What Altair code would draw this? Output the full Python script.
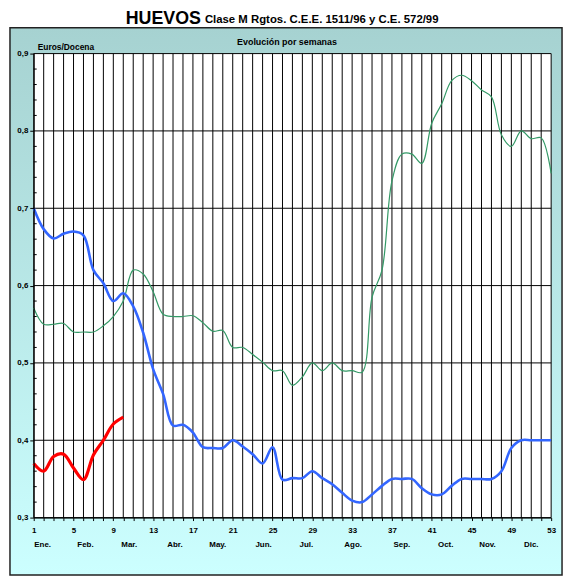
import altair as alt
import pandas as pd

# ---------------- data ----------------
weeks = list(range(1, 54))

# previous season (blue, thick)
serie_azul = [0.700, 0.673, 0.661, 0.667, 0.670, 0.665, 0.620, 0.603, 0.580, 0.590,
              0.573, 0.539, 0.492, 0.460, 0.419, 0.420, 0.410, 0.391, 0.390, 0.390,
              0.400, 0.392, 0.382, 0.370, 0.391, 0.349, 0.351, 0.351, 0.360, 0.351,
              0.343, 0.332, 0.322, 0.320, 0.330, 0.341, 0.350, 0.350, 0.350, 0.338,
              0.330, 0.330, 0.341, 0.350, 0.350, 0.350, 0.350, 0.360, 0.390, 0.400,
              0.400, 0.400, 0.400]

# two seasons ago (green, thin)
serie_verde = [0.571, 0.550, 0.550, 0.551, 0.540, 0.540, 0.540, 0.548, 0.560, 0.580,
               0.620, 0.615, 0.592, 0.563, 0.560, 0.560, 0.561, 0.552, 0.541, 0.542,
               0.520, 0.520, 0.511, 0.501, 0.490, 0.490, 0.471, 0.482, 0.500, 0.490,
               0.500, 0.490, 0.490, 0.488, 0.585, 0.620, 0.735, 0.770, 0.770, 0.758,
               0.810, 0.835, 0.865, 0.872, 0.865, 0.853, 0.844, 0.795, 0.780, 0.800,
               0.790, 0.791, 0.745]

# current season (red, thick) weeks 1-10
semanas_actual = list(range(1, 11))
serie_roja = [0.370, 0.360, 0.379, 0.382, 0.364, 0.349, 0.381, 0.400, 0.421, 0.430]

meses = ["Ene.", "Feb.", "Mar.", "Abr.", "May.", "Jun.",
         "Jul.", "Ago.", "Sep.", "Oct.", "Nov.", "Dic."]
meses_semana = [1.9, 6.2, 10.6, 15.2, 19.5, 24.1, 28.4, 33.1, 38.0, 42.4, 46.6, 51.0]

y_major = [0.3, 0.4, 0.5, 0.6, 0.7, 0.8, 0.9]
y_minor = [0.32, 0.34, 0.36, 0.38, 0.42, 0.44, 0.46, 0.48, 0.52, 0.54, 0.56, 0.58,
           0.62, 0.64, 0.66, 0.68, 0.72, 0.74, 0.76, 0.78, 0.82, 0.84, 0.86, 0.88]

titulo = "HUEVOS"
subtitulo = "Clase M Rgtos. C.E.E. 1511/96 y C.E. 572/99"
titulo_interior = "Evolución por semanas"
unidad = "Euros/Docena"

# ---------------- chart ----------------
W, H = 523, 469
FONT = "Arial, Liberation Sans, sans-serif"

xs = alt.Scale(domain=[1, 53], nice=False, zero=False)
ys = alt.Scale(domain=[0.3, 0.9], nice=False, zero=False)

xaxis = alt.Axis(values=weeks, title=None, grid=False, zindex=2,
                 labelExpr="(datum.value - 1) % 4 == 0 ? datum.value : ''",
                 tickSize=3, tickColor="black", domainColor="black",
                 labelFont=FONT, labelFontSize=8, labelFontWeight="bold",
                 labelColor="black", labelPadding=6, labelFlush=False)
yaxis = alt.Axis(values=y_major, title=None, grid=False, zindex=2,
                 labelExpr="replace(format(datum.value, '.1f'), '.', ',')",
                 tickSize=4, tickColor="black", domainColor="black",
                 labelFont=FONT, labelFontSize=8, labelFontWeight="bold",
                 labelColor="black", labelPadding=2, labelFlush=False)

one = alt.Data(values=[{"k": 1}])

frame = alt.Chart(one).mark_rect(
    fill=alt.LinearGradient(
        gradient="linear", x1=0, y1=0, x2=0, y2=1,
        stops=[alt.GradientStop(offset=0, color="#a6d2d1"),
               alt.GradientStop(offset=1, color="#ccffff")]),
    stroke="#222222", strokeWidth=1.5
).encode(x=alt.value(-24), x2=alt.value(534), y=alt.value(-26), y2=alt.value(527))

plotbg = alt.Chart(one).mark_rect(fill="white").encode(
    x=alt.value(0), x2=alt.value(W), y=alt.value(0), y2=alt.value(H))

df_weeks = pd.DataFrame({"week": weeks})
vgrid = alt.Chart(df_weeks).mark_rule(color="black", strokeWidth=1).encode(
    x=alt.X("week:Q", scale=xs, axis=xaxis))

df_major = pd.DataFrame({"v": y_major})
hgrid = alt.Chart(df_major).mark_rule(color="black", strokeWidth=1).encode(
    y=alt.Y("v:Q", scale=ys, axis=yaxis))

df_minor = pd.DataFrame({"v": y_minor})
minor = alt.Chart(df_minor).mark_rule(color="black", strokeWidth=1).encode(
    y=alt.Y("v:Q", scale=ys, axis=yaxis), x=alt.value(0), x2=alt.value(3))

def line(weeks_, vals, color, width):
    df = pd.DataFrame({"week": weeks_, "v": vals})
    return alt.Chart(df).mark_line(color=color, strokeWidth=width,
                                   interpolate="catmull-rom").encode(
        x=alt.X("week:Q", scale=xs, axis=xaxis),
        y=alt.Y("v:Q", scale=ys, axis=yaxis))

green = line(weeks, serie_verde, "#339966", 1.2)
blue = line(weeks, serie_azul, "#3366ff", 2.6)
red = line(semanas_actual, serie_roja, "#ff0000", 3.2)

df_meses = pd.DataFrame({"mes": meses, "week": meses_semana})
month_text = alt.Chart(df_meses).mark_text(
    font=FONT, fontSize=8, fontWeight="bold", color="black", baseline="middle"
).encode(x=alt.X("week:Q", scale=xs, axis=xaxis), y=alt.value(497), text="mes:N")

t_main = alt.Chart(one).mark_text(
    font=FONT, fontSize=18, fontWeight="bold", color="black",
    align="right", baseline="alphabetic"
).encode(x=alt.value(169), y=alt.value(-30), text=alt.value(titulo))

t_sub = alt.Chart(one).mark_text(
    font=FONT, fontSize=11.5, fontWeight="bold", color="black",
    align="left", baseline="alphabetic"
).encode(x=alt.value(173), y=alt.value(-30.5), text=alt.value(subtitulo))

t_inner = alt.Chart(one).mark_text(
    font=FONT, fontSize=9, fontWeight="bold", color="black",
    align="center", baseline="middle"
).encode(x=alt.value(256), y=alt.value(-12), text=alt.value(titulo_interior))

t_unit = alt.Chart(one).mark_text(
    font=FONT, fontSize=8.5, fontWeight="bold", color="black",
    align="left", baseline="alphabetic"
).encode(x=alt.value(4), y=alt.value(-4), text=alt.value(unidad))

chart = alt.layer(
    frame, plotbg, vgrid, hgrid, minor, green, blue, red,
    month_text, t_main, t_sub, t_inner, t_unit
).properties(
    width=W, height=H,
    padding={"left": 26, "top": 43, "right": 14, "bottom": 59},
    autosize=alt.AutoSizeParams(type="none"),
    background="white"
).configure_view(stroke=None)

chart.save("out.html", embed_options={"renderer": "svg", "actions": False})
